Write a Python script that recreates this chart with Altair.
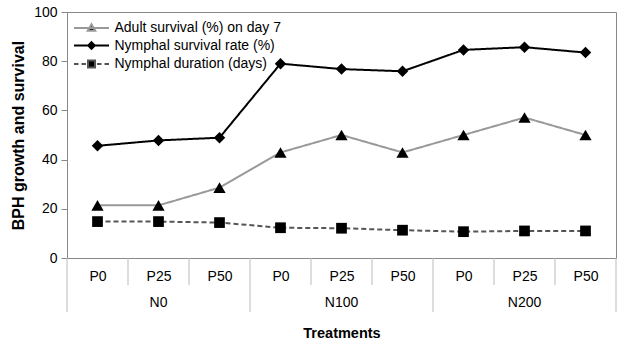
import altair as alt
import pandas as pd

# ---- data ----
p_levels = ["P0", "P25", "P50", "P0", "P25", "P50", "P0", "P25", "P50"]
n_groups = ["N0", "N100", "N200"]
series_names = [
    "Adult survival (%) on day 7",
    "Nymphal survival rate (%)",
    "Nymphal duration (days)",
]
adult_survival = [21.4, 21.4, 28.6, 42.9, 50.0, 42.9, 50.0, 57.1, 50.0]
nymphal_survival = [45.6, 47.8, 48.9, 79.0, 76.8, 75.9, 84.6, 85.7, 83.5]
nymphal_duration = [14.8, 14.8, 14.4, 12.3, 12.1, 11.3, 10.7, 11.0, 11.0]

rows = []
for name, vals in zip(series_names, [adult_survival, nymphal_survival, nymphal_duration]):
    for i, v in enumerate(vals):
        rows.append({"idx": i, "value": v, "series": name, "marker": name})
df = pd.DataFrame(rows)

group_df = pd.DataFrame({"idx": [1, 4, 7], "group": n_groups})
short_sep = pd.DataFrame({"idx": [0.5, 1.5, 3.5, 4.5, 6.5, 7.5]})
long_sep = pd.DataFrame({"idx": [-0.5, 2.5, 5.5, 8.5]})

W, H = 549, 246
FONT = "Liberation Sans"
FRAME = "#888888"
SEP = "#bbbbbb"

label_expr = "[" + ",".join(f"'{p}'" for p in p_levels) + "][datum.value]"

x_scale = alt.Scale(domain=[-0.5, 8.5], nice=False, zero=False)
y_scale = alt.Scale(domain=[0, 100], nice=False)

x_axis = alt.Axis(
    values=list(range(9)),
    labelExpr=label_expr,
    ticks=False,
    domain=False,
    grid=False,
    labelPadding=11,
    labelFontSize=14,
    labelColor="#000000",
    title="Treatments",
    titleFontSize=14.5,
    titleFontWeight="bold",
    titleColor="#000000",
    titlePadding=43,
)
y_axis = alt.Axis(
    values=[0, 20, 40, 60, 80, 100],
    grid=False,
    tickSize=6,
    tickColor=FRAME,
    domainColor=FRAME,
    labelPadding=4,
    labelFontSize=14,
    labelColor="#000000",
    title="BPH growth and survival",
    titleFontSize=16,
    titleFontWeight="bold",
    titleColor="#000000",
    titlePadding=7,
)


def xenc():
    return alt.X("idx:Q", scale=x_scale, axis=x_axis)


def yenc():
    return alt.Y("value:Q", scale=y_scale, axis=y_axis)


lines = alt.Chart(df).mark_line(strokeWidth=2).encode(
    x=xenc(),
    y=yenc(),
    stroke=alt.Stroke(
        "marker:N",
        scale=alt.Scale(domain=series_names, range=["#999999", "#000000", "#555555"]),
        legend=None,
    ),
    strokeDash=alt.StrokeDash(
        "marker:N",
        scale=alt.Scale(domain=series_names, range=[[1, 0], [1, 0], [5, 3]]),
        legend=None,
    ),
)

points = alt.Chart(df).mark_point(filled=True, opacity=1, color="#000000").encode(
    x=xenc(),
    y=yenc(),
    shape=alt.Shape(
        "marker:N",
        scale=alt.Scale(domain=series_names, range=["triangle-up", "diamond", "square"]),
        legend=None,
    ),
    size=alt.Size(
        "marker:N",
        scale=alt.Scale(domain=series_names, range=[150, 115, 125]),
        legend=None,
    ),
)

legend_paths = [
    "M-3.5,0L3.5,0M0,-0.75L0.75,0.55L-0.75,0.55Z",
    "M-3.5,0L3.5,0M0,-0.65L0.65,0L0,0.65L-0.65,0Z",
    "M-3.5,0L-2.6,0M-2.0,0L-1.1,0M1.1,0L2.0,0M2.6,0L3.5,0M-0.7,-0.7L0.7,-0.7L0.7,0.7L-0.7,0.7Z",
]

legend_layer = alt.Chart(df).mark_point(opacity=1, strokeWidth=2).encode(
    shape=alt.Shape("series:N", scale=alt.Scale(domain=series_names, range=legend_paths), title=None),
    fill=alt.Fill("series:N", scale=alt.Scale(domain=series_names, range=["#000000", "#000000", "#000000"]), title=None),
    stroke=alt.Stroke("series:N", scale=alt.Scale(domain=series_names, range=["#999999", "#000000", "#555555"]), title=None),
).transform_filter("false")

sep_short = alt.Chart(short_sep).mark_rule(color=SEP, strokeWidth=1).encode(
    x=xenc(),
    y=alt.value(H),
    y2=alt.value(273),
)
sep_long = alt.Chart(long_sep).mark_rule(color=SEP, strokeWidth=1).encode(
    x=xenc(),
    y=alt.value(H),
    y2=alt.value(300),
)
group_text = alt.Chart(group_df).mark_text(fontSize=14, baseline="middle", color="#000000").encode(
    x=xenc(),
    y=alt.value(291),
    text="group:N",
)

chart = (
    alt.layer(sep_short, sep_long, group_text, lines, points, legend_layer)
    .resolve_scale(shape="independent", stroke="independent", fill="independent",
                   strokeDash="independent", size="independent")
    .properties(
        width=W,
        height=H,
        autosize="none",
        padding={"left": 67, "top": 12, "right": 9, "bottom": 86},
    )
    .configure(font=FONT)
    .configure_view(stroke=FRAME, strokeWidth=1)
    .configure_axis(labelFont=FONT, titleFont=FONT)
    .configure_text(font=FONT)
    .configure_legend(
        orient="none",
        legendX=17.5,
        legendY=9,
        symbolSize=100,
        symbolStrokeWidth=2,
        labelFontSize=14,
        labelFont=FONT,
        labelColor="#000000",
        labelLimit=400,
        labelOffset=16,
        symbolOffset=0,
        rowPadding=2.5,
        padding=0,
    )
)

chart.save("out.html", embed_options={"renderer": "svg", "actions": False})
